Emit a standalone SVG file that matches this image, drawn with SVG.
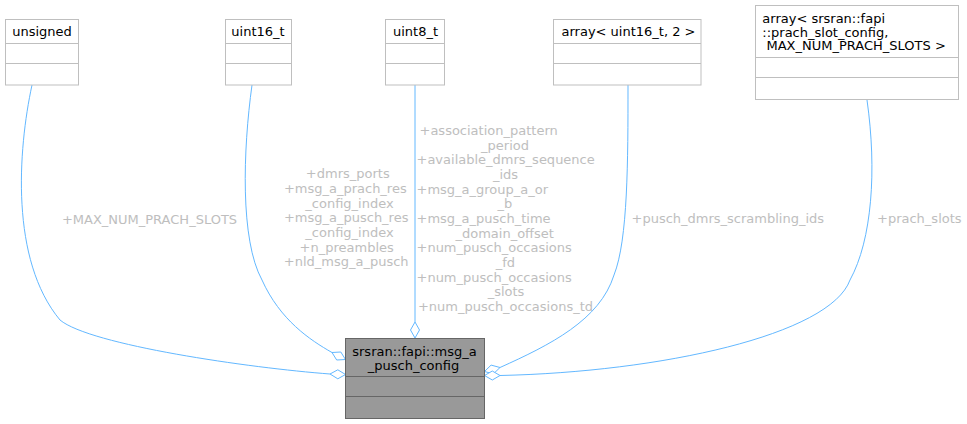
<svg xmlns="http://www.w3.org/2000/svg" width="967" height="424" viewBox="0 0 967 424">
<style>
text{font-family:"DejaVu Sans","Liberation Sans",sans-serif;font-size:13px}
.box{fill:#ffffff;stroke:#bfbfbf;stroke-width:1}
.div{stroke:#bfbfbf;stroke-width:1;fill:none}
.main{fill:#999999;stroke:#666666;stroke-width:1}
.mdiv{stroke:#666666;stroke-width:1;fill:none}
.nt{fill:#000000}
.c{text-anchor:middle}
.edge{fill:none;stroke:#63b8ff;stroke-width:1}
.dia{fill:#ffffff;stroke:#63b8ff;stroke-width:1}
.lbl{fill:#bebebe}
</style>
<rect width="967" height="424" fill="#ffffff"/>
<g id="connectors">
  <g id="e_unsigned">
    <path class="edge" d="M32,85 C18,150 10,260 60,320 C90,345 250,368 330,374"/>
    <polygon class="dia" points="345.5,374.5 337.8,369.8 330,374 337.8,378.8"/>
    <text class="lbl c" x="149.5" y="223.5">+MAX_NUM_PRACH_SLOTS</text>
  </g>
  <g id="e_uint16">
    <path class="edge" d="M252,85 C243,150 240,240 262,280 C280,320 310,340 332,352.5"/>
    <polygon class="dia" points="345.5,359.5 340.8,352 332,352.5 336.7,360"/>
    <text class="lbl c" x="347.8" y="178.3">+dmrs_ports</text>
    <text class="lbl c" x="345.3" y="193">+msg_a_prach_res</text>
    <text class="lbl c" x="349.5" y="207.7">_config_index</text>
    <text class="lbl c" x="346.2" y="222.3">+msg_a_pusch_res</text>
    <text class="lbl c" x="349.5" y="237">_config_index</text>
    <text class="lbl c" x="346.7" y="251.7">+n_preambles</text>
    <text class="lbl c" x="346.2" y="266.3">+nld_msg_a_pusch</text>
  </g>
  <g id="e_uint8">
    <path class="edge" d="M415,85 L415,322"/>
    <polygon class="dia" points="415,338 410.5,330 415,322 419.5,330"/>
    <text class="lbl" x="419.5" y="135">+association_pattern</text>
    <text class="lbl c" x="505" y="149.7">_period</text>
    <text class="lbl" x="416.5" y="164.3">+available_dmrs_sequence</text>
    <text class="lbl c" x="505.5" y="179">_ids</text>
    <text class="lbl" x="416.5" y="193.7">+msg_a_group_a_or</text>
    <text class="lbl c" x="505" y="208.3">_b</text>
    <text class="lbl" x="416.5" y="223">+msg_a_pusch_time</text>
    <text class="lbl c" x="504.7" y="237.7">_domain_offset</text>
    <text class="lbl" x="416.5" y="252.3">+num_pusch_occasions</text>
    <text class="lbl c" x="505.3" y="267">_fd</text>
    <text class="lbl" x="416.5" y="281.7">+num_pusch_occasions</text>
    <text class="lbl c" x="506" y="296.3">_slots</text>
    <text class="lbl c" x="505.5" y="311">+num_pusch_occasions_td</text>
  </g>
  <g id="e_array16">
    <path class="edge" d="M628,85 C628,160 628,240 614,275 C600,320 550,345 500,367.5"/>
    <polygon class="dia" points="484.5,371.5 493.4,373.9 500,367.5 491.1,365.1"/>
    <text class="lbl c" x="727.8" y="222.8">+pusch_dmrs_scrambling_ids</text>
  </g>
  <g id="e_prach">
    <path class="edge" d="M867,100 C877,170 872,240 850,280 C830,335 660,372 500,375.5"/>
    <polygon class="dia" points="484.5,375.5 492.3,371 500,375.5 492.3,380"/>
    <text class="lbl c" x="919.3" y="222.8">+prach_slots</text>
  </g>
</g>
<g id="n_unsigned">
  <rect class="box" x="5.5" y="19.5" width="73" height="65.5"/>
  <path class="div" d="M5.5,43.5 H78.5 M5.5,63.5 H78.5"/>
  <text class="nt c" x="42" y="35.5">unsigned</text>
</g>
<g id="n_uint16">
  <rect class="box" x="225.5" y="19.5" width="66" height="65.5"/>
  <path class="div" d="M225.5,43.5 H291.5 M225.5,63.5 H291.5"/>
  <text class="nt c" x="258" y="35.5">uint16_t</text>
</g>
<g id="n_uint8">
  <rect class="box" x="385.5" y="19.5" width="59" height="65.5"/>
  <path class="div" d="M385.5,43.5 H444.5 M385.5,63.5 H444.5"/>
  <text class="nt c" x="415.5" y="35.5">uint8_t</text>
</g>
<g id="n_array16">
  <rect class="box" x="553.5" y="19.5" width="147.5" height="65.5"/>
  <path class="div" d="M553.5,43.5 H701 M553.5,63.5 H701"/>
  <text class="nt c" x="628.5" y="35.5">array&lt; uint16_t, 2 &gt;</text>
</g>
<g id="n_prach">
  <rect class="box" x="755.5" y="5.5" width="203" height="94"/>
  <path class="div" d="M755.5,57.5 H958.5 M755.5,77.5 H958.5"/>
  <text class="nt" x="762.3" y="22.5">array&lt; srsran::fapi</text>
  <text class="nt" x="762.3" y="36.5">::prach_slot_config,</text>
  <text class="nt" x="766.5" y="50.3">MAX_NUM_PRACH_SLOTS &gt;</text>
</g>
<g id="n_main">
  <rect class="main" x="345.5" y="338.5" width="139" height="80"/>
  <path class="mdiv" d="M345.5,376.5 H484.5 M345.5,396.5 H484.5"/>
  <text class="nt c" x="414.5" y="356">srsran::fapi::msg_a</text>
  <text class="nt c" x="413.5" y="370">_pusch_config</text>
</g>
</svg>
